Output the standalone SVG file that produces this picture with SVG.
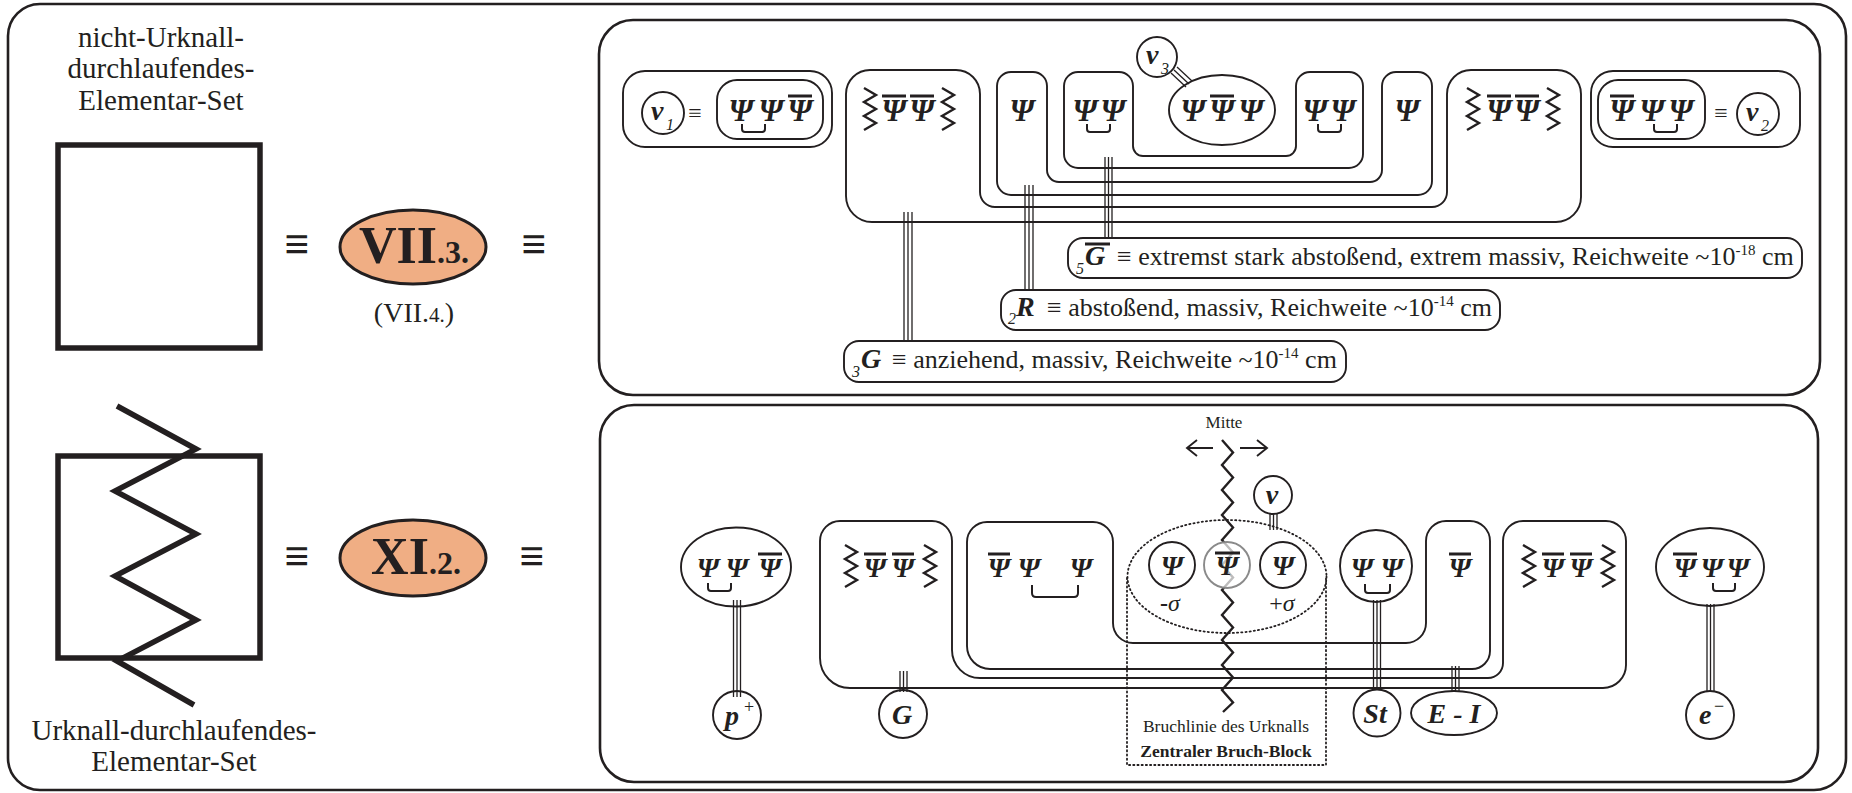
<svg xmlns="http://www.w3.org/2000/svg" width="1852" height="793" viewBox="0 0 1852 793">
<style>
.t{font-family:"Liberation Serif","Times New Roman",serif;fill:#231f20}
.bi{font-family:"Liberation Serif","Times New Roman",serif;font-weight:bold;font-style:italic;fill:#231f20}
.psi{font-family:"Liberation Serif","Times New Roman",serif;font-weight:bold;font-style:italic;text-anchor:middle;fill:#231f20}
.sub{font-family:"Liberation Serif","Times New Roman",serif;font-style:italic;fill:#231f20}
.ln{fill:none;stroke:#231f20;stroke-width:1.9}
.pnl{fill:none;stroke:#231f20;stroke-width:2.6}
.ov{stroke:#231f20;stroke-width:3}
.br{fill:none;stroke:#231f20;stroke-width:2}
.tr line{stroke:#231f20;stroke-width:1.3}
.zz{fill:none;stroke:#231f20;stroke-width:2.4}
.dot{fill:none;stroke:#231f20;stroke-width:1.8;stroke-dasharray:1.2 3;stroke-linecap:round}
.big{fill:none;stroke:#231f20;stroke-width:5.5}
.eq{font-family:"Liberation Serif","DejaVu Serif",serif;font-weight:bold;font-size:44px;text-anchor:middle;fill:#231f20}
.lab{fill:#fff;stroke:#231f20;stroke-width:1.9}
</style>
<defs>
<path id="zz" class="zz" d="M0,0 L12,7 L0,14 L12,21 L0,28 L12,35 L0,42"/>
</defs>
<rect width="1852" height="793" fill="#fff"/>
<rect x="8" y="4" width="1838" height="786" rx="32" class="pnl"/>

<!-- left side -->
<g id="left-top">
<text class="t" font-size="29" text-anchor="middle"><tspan x="161" y="47">nicht-Urknall-</tspan><tspan x="161" y="78">durchlaufendes-</tspan><tspan x="161" y="110">Elementar-Set</tspan></text>
<rect x="58" y="145" width="202" height="203" class="big"/>
<text class="eq" x="297" y="259">≡</text>
<ellipse cx="413" cy="247" rx="73" ry="37" fill="#F0AE84" stroke="#231f20" stroke-width="3"/>
<text class="t" x="414" y="263" text-anchor="middle" font-weight="bold" font-size="52">VII<tspan font-size="32">.3.</tspan></text>
<text class="eq" x="534" y="259">≡</text>
<text class="t" x="414" y="322" text-anchor="middle" font-size="28">(VII.<tspan font-size="21">4.</tspan>)</text>
</g>
<g id="left-bottom">
<rect x="58" y="456" width="202" height="202" class="big"/>
<polyline class="big" points="117,406 196,449 115,491 196,534 115,576 196,620 117,661 194,705"/>
<text class="eq" x="297" y="571">≡</text>
<ellipse cx="413" cy="558" rx="73" ry="38" fill="#F0AE84" stroke="#231f20" stroke-width="3"/>
<text class="t" x="416" y="574" text-anchor="middle" font-weight="bold" font-size="52">XI<tspan font-size="32">.2.</tspan></text>
<text class="eq" x="532" y="571">≡</text>
<text class="t" font-size="29" text-anchor="middle"><tspan x="174" y="740">Urknall-durchlaufendes-</tspan><tspan x="174" y="771">Elementar-Set</tspan></text>
</g>

<!-- top panel -->
<rect id="top-panel" x="599" y="20" width="1221" height="375" rx="34" class="pnl"/>
<g id="top-connectors" class="tr">
<line x1="904" y1="212" x2="904" y2="341"/><line x1="908" y1="212" x2="908" y2="341"/><line x1="912" y1="212" x2="912" y2="341"/>
<line x1="1025" y1="185" x2="1025" y2="290"/><line x1="1029" y1="185" x2="1029" y2="290"/><line x1="1033" y1="185" x2="1033" y2="290"/>
<line x1="1105" y1="157" x2="1105" y2="238"/><line x1="1108.5" y1="157" x2="1108.5" y2="238"/><line x1="1112" y1="157" x2="1112" y2="238"/>
<line x1="1171" y1="73" x2="1186" y2="87"/><line x1="1174" y1="70" x2="1189" y2="84"/><line x1="1177" y1="67" x2="1192" y2="81"/>
</g>
<g id="v1">
<rect x="623" y="71" width="209" height="76" rx="22" class="ln"/>
<circle cx="663" cy="113" r="21" class="ln"/>
<text class="bi" x="651" y="120" font-size="28">v</text><text class="sub" x="666" y="130" font-size="16">1</text>
<text class="t" x="695" y="121" font-size="24" text-anchor="middle">≡</text>
<rect x="717" y="80" width="106" height="59" rx="20" class="ln"/>
<text class="psi" font-size="31" y="121"><tspan x="741">Ψ</tspan><tspan x="771">Ψ</tspan><tspan x="800">Ψ</tspan></text>
<line class="ov" x1="788" y1="96" x2="812" y2="96"/>
<path class="br" d="M742,124 V129 Q742,132 745,132 H762 Q765,132 765,129 V124"/>
</g>
<g id="shape-zz-top">
<path class="ln" d="M846,94 A24,24 0 0 1 870,70 H956 A24,24 0 0 1 980,94 V192 A15,15 0 0 0 995,207 H1432 A15,15 0 0 0 1447,192 V94 A24,24 0 0 1 1471,70 H1557 A24,24 0 0 1 1581,94 V197 A25,25 0 0 1 1556,222 H872 A26,26 0 0 1 846,196 Z"/>
<use href="#zz" x="864" y="88"/><use href="#zz" x="942" y="88"/>
<text class="psi" font-size="31" y="121"><tspan x="894">Ψ</tspan><tspan x="922">Ψ</tspan></text>
<line class="ov" x1="882" y1="96" x2="906" y2="96"/><line class="ov" x1="910" y1="96" x2="934" y2="96"/>
<use href="#zz" x="1467" y="88"/><use href="#zz" x="1547" y="88"/>
<text class="psi" font-size="31" y="121"><tspan x="1499">Ψ</tspan><tspan x="1527">Ψ</tspan></text>
<line class="ov" x1="1487" y1="96" x2="1511" y2="96"/><line class="ov" x1="1515" y1="96" x2="1539" y2="96"/>
</g>
<g id="shape-psi-top">
<path class="ln" d="M997,86 A14,14 0 0 1 1011,72 H1033 A14,14 0 0 1 1047,86 V170 A12,12 0 0 0 1059,182 H1370 A12,12 0 0 0 1382,170 V86 A14,14 0 0 1 1396,72 H1418 A14,14 0 0 1 1432,86 V181 A14,14 0 0 1 1418,195 H1011 A14,14 0 0 1 997,181 Z"/>
<text class="psi" font-size="31" y="121"><tspan x="1022">Ψ</tspan><tspan x="1407">Ψ</tspan></text>
</g>
<g id="shape-psipsi-top">
<path class="ln" d="M1064,86 A14,14 0 0 1 1078,72 H1119 A14,14 0 0 1 1133,86 V146 A10,10 0 0 0 1143,156 H1286 A10,10 0 0 0 1296,146 V86 A14,14 0 0 1 1310,72 H1349 A14,14 0 0 1 1363,86 V154 A14,14 0 0 1 1349,168 H1078 A14,14 0 0 1 1064,154 Z"/>
<text class="psi" font-size="31" y="121"><tspan x="1085">Ψ</tspan><tspan x="1113">Ψ</tspan><tspan x="1315">Ψ</tspan><tspan x="1343">Ψ</tspan></text>
<path class="br" d="M1087,124 V129 Q1087,132 1090,132 H1107 Q1110,132 1110,129 V124"/>
<path class="br" d="M1318,124 V129 Q1318,132 1321,132 H1338 Q1341,132 1341,129 V124"/>
</g>
<g id="ellipse-top">
<ellipse cx="1222" cy="110" rx="53" ry="35" class="ln" fill="#fff"/>
<text class="psi" font-size="31" y="121"><tspan x="1193">Ψ</tspan><tspan x="1222">Ψ</tspan><tspan x="1251">Ψ</tspan></text>
<line class="ov" x1="1210" y1="96" x2="1234" y2="96"/>
</g>
<g id="v3">
<circle cx="1157" cy="57" r="20" class="ln" fill="#fff"/>
<text class="bi" x="1146" y="64" font-size="28">v</text><text class="sub" x="1161" y="74" font-size="16">3</text>
</g>
<g id="v2">
<rect x="1591" y="71" width="209" height="76" rx="22" class="ln"/>
<rect x="1598" y="80" width="107" height="59" rx="20" class="ln"/>
<text class="psi" font-size="31" y="121"><tspan x="1622">Ψ</tspan><tspan x="1652">Ψ</tspan><tspan x="1681">Ψ</tspan></text>
<line class="ov" x1="1610" y1="96" x2="1634" y2="96"/>
<path class="br" d="M1654,124 V129 Q1654,132 1657,132 H1674 Q1677,132 1677,129 V124"/>
<text class="t" x="1721" y="121" font-size="24" text-anchor="middle">≡</text>
<circle cx="1758" cy="114" r="21" class="ln"/>
<text class="bi" x="1746" y="121" font-size="28">v</text><text class="sub" x="1761" y="131" font-size="16">2</text>
</g>
<g id="label-5G">
<rect x="1068" y="238" width="734" height="40" rx="15" class="lab"/>
<text class="sub" x="1076" y="274" font-size="16">5</text>
<text class="bi" x="1085" y="265" font-size="28">G</text>
<line class="ov" x1="1085" y1="244" x2="1110" y2="244"/>
<text class="t" x="1117" y="265" font-size="26">≡ extremst stark abstoßend, extrem massiv, Reichweite ~10<tspan font-size="15" dy="-10">-18</tspan><tspan dy="10"> cm</tspan></text>
</g>
<g id="label-2R">
<rect x="1001" y="290" width="499" height="40" rx="15" class="lab"/>
<text class="sub" x="1008" y="324" font-size="16">2</text>
<text class="bi" x="1016" y="316" font-size="28">R</text>
<text class="t" x="1047" y="316" font-size="26">≡ abstoßend, massiv, Reichweite ~10<tspan font-size="15" dy="-10">-14</tspan><tspan dy="10"> cm</tspan></text>
</g>
<g id="label-3G">
<rect x="844" y="341" width="502" height="41" rx="15" class="lab"/>
<text class="sub" x="852" y="377" font-size="16">3</text>
<text class="bi" x="861" y="368" font-size="28">G</text>
<text class="t" x="892" y="368" font-size="26">≡ anziehend, massiv, Reichweite ~10<tspan font-size="15" dy="-10">-14</tspan><tspan dy="10"> cm</tspan></text>
</g>

<!-- bottom panel -->
<rect id="bottom-panel" x="600" y="405" width="1218" height="377" rx="34" class="pnl"/>
<g id="shape-zz-bottom">
<path class="ln" d="M820,541 A20,20 0 0 1 840,521 H932 A20,20 0 0 1 952,541 V650 A28,28 0 0 0 980,678 H1488 A15,15 0 0 0 1503,663 V541 A20,20 0 0 1 1523,521 H1606 A20,20 0 0 1 1626,541 V665 A23,23 0 0 1 1603,688 H850 A30,30 0 0 1 820,658 Z"/>
<use href="#zz" x="845" y="545"/><use href="#zz" x="924" y="545"/>
<text class="psi" font-size="28" y="577"><tspan x="875">Ψ</tspan><tspan x="903">Ψ</tspan></text>
<line class="ov" x1="864" y1="554" x2="886" y2="554"/><line class="ov" x1="892" y1="554" x2="914" y2="554"/>
<use href="#zz" x="1523" y="545"/><use href="#zz" x="1602" y="545"/>
<text class="psi" font-size="28" y="577"><tspan x="1553">Ψ</tspan><tspan x="1581">Ψ</tspan></text>
<line class="ov" x1="1542" y1="554" x2="1564" y2="554"/><line class="ov" x1="1570" y1="554" x2="1592" y2="554"/>
</g>
<g id="shape-psibar-bottom">
<path class="ln" d="M967,542 A20,20 0 0 1 987,522 H1093 A20,20 0 0 1 1113,542 V623 A20,20 0 0 0 1133,643 H1406 A20,20 0 0 0 1426,623 V541 A20,20 0 0 1 1446,521 H1470 A20,20 0 0 1 1490,541 V651 A18,18 0 0 1 1472,669 H990 A23,23 0 0 1 967,646 Z"/>
<text class="psi" font-size="28" y="577"><tspan x="999">Ψ</tspan><tspan x="1029">Ψ</tspan><tspan x="1081">Ψ</tspan><tspan x="1460">Ψ</tspan></text>
<line class="ov" x1="988" y1="554" x2="1010" y2="554"/><line class="ov" x1="1449" y1="554" x2="1471" y2="554"/>
<path class="br" d="M1032,585 V593 Q1032,597 1036,597 H1074 Q1078,597 1078,593 V585"/>
</g>
<g id="bottom-connectors" class="tr">
<line x1="733.5" y1="600" x2="733.5" y2="697"/><line x1="737" y1="600" x2="737" y2="697"/><line x1="740.5" y1="600" x2="740.5" y2="697"/>
<line x1="900" y1="671" x2="900" y2="692"/><line x1="903.5" y1="671" x2="903.5" y2="692"/><line x1="907" y1="671" x2="907" y2="692"/>
<line x1="1270" y1="513" x2="1270" y2="530"/><line x1="1273.5" y1="513" x2="1273.5" y2="530"/><line x1="1277" y1="513" x2="1277" y2="530"/>
<line x1="1373.5" y1="600" x2="1373.5" y2="690"/><line x1="1377" y1="600" x2="1377" y2="690"/><line x1="1380.5" y1="600" x2="1380.5" y2="690"/>
<line x1="1452" y1="666" x2="1452" y2="692"/><line x1="1455.5" y1="666" x2="1455.5" y2="692"/><line x1="1459" y1="666" x2="1459" y2="692"/>
<line x1="1707" y1="604" x2="1707" y2="692"/><line x1="1710.5" y1="604" x2="1710.5" y2="692"/><line x1="1714" y1="604" x2="1714" y2="692"/>
</g>
<g id="p-ellipse">
<ellipse cx="736" cy="567" rx="55" ry="39.5" class="ln" fill="#fff"/>
<text class="psi" font-size="28" y="577"><tspan x="708">Ψ</tspan><tspan x="737">Ψ</tspan><tspan x="770">Ψ</tspan></text>
<line class="ov" x1="758" y1="554" x2="782" y2="554"/>
<path class="br" d="M708,583 V588 Q708,591 711,591 H728 Q731,591 731,588 V583"/>
</g>
<g id="p-plus">
<circle cx="737" cy="715" r="24" class="ln" fill="#fff"/>
<text class="bi" x="725" y="725" font-size="28">p</text><text class="t" x="744" y="713" font-size="18">+</text>
</g>
<g id="G">
<circle cx="903" cy="714" r="24" class="ln" fill="#fff"/>
<text class="psi" x="902" y="724" font-size="28">G</text>
</g>
<g id="mitte">
<text class="t" x="1224" y="428" font-size="17" text-anchor="middle">Mitte</text>
<path class="ln" d="M1213,448 H1187 M1197,440 L1187,448 L1197,456 M1240,448 H1267 M1257,440 L1267,448 L1257,456"/>
</g>
<g id="central-block">
<ellipse cx="1227" cy="576.5" rx="99.5" ry="56.5" class="dot"/>
<path class="dot" d="M1127,578 V765 H1326 V578"/>
<polyline class="zz" stroke-width="2" points="1222,440 1233,452.5 1222,465 1233,477.5 1222,490 1233,502.5 1222,515 1233,527.5 1222,540 1233,552.5 1222,565 1233,577.5 1222,590 1233,602.5 1222,615 1233,627.5 1222,640 1233,652.5 1222,665 1233,677.5 1222,690 1233,702.5 1223,712"/>
<circle cx="1172" cy="565" r="23" class="ln" fill="#fff"/>
<circle cx="1227" cy="565" r="23" fill="#fff" fill-opacity="0.7" stroke="#8a8a8a" stroke-width="1.9"/>
<circle cx="1283" cy="565" r="23" class="ln" fill="#fff"/>
<text class="psi" font-size="28" y="575"><tspan x="1172">Ψ</tspan><tspan x="1227">Ψ</tspan><tspan x="1283">Ψ</tspan></text>
<line class="ov" x1="1215" y1="553" x2="1240" y2="553"/>
<text class="sub" x="1170" y="611" font-size="24" text-anchor="middle"><tspan font-style="normal" font-weight="bold">-</tspan>σ</text>
<text class="sub" x="1282" y="611" font-size="24" text-anchor="middle"><tspan font-style="normal">+</tspan>σ</text>
<text class="t" x="1226" y="732" font-size="17.5" text-anchor="middle">Bruchlinie des Urknalls</text>
<text class="t" x="1226" y="757" font-size="17.5" text-anchor="middle" font-weight="bold">Zentraler Bruch-Block</text>
</g>
<g id="v">
<circle cx="1273" cy="495" r="19" class="ln" fill="#fff"/>
<text class="psi" x="1272" y="504" font-size="28">v</text>
</g>
<g id="psipsi-circle">
<circle cx="1376" cy="566" r="36" class="ln" fill="#fff"/>
<text class="psi" font-size="28" y="577"><tspan x="1362">Ψ</tspan><tspan x="1392">Ψ</tspan></text>
<path class="br" d="M1365,584 V590 Q1365,593 1368,593 H1387 Q1390,593 1390,590 V584"/>
</g>
<g id="St">
<circle cx="1377" cy="713" r="23.5" class="ln" fill="#fff"/>
<text class="psi" x="1375" y="723" font-size="28">St</text>
</g>
<g id="E-I">
<ellipse cx="1454" cy="713" rx="43" ry="22" class="ln" fill="#fff"/>
<text class="psi" x="1454" y="723" font-size="28">E - I</text>
</g>
<g id="e-ellipse">
<ellipse cx="1710" cy="567" rx="54" ry="39" class="ln" fill="#fff"/>
<text class="psi" font-size="28" y="577"><tspan x="1685">Ψ</tspan><tspan x="1712">Ψ</tspan><tspan x="1738">Ψ</tspan></text>
<line class="ov" x1="1673" y1="554" x2="1697" y2="554"/>
<path class="br" d="M1713,583 V588 Q1713,591 1716,591 H1732 Q1735,591 1735,588 V583"/>
</g>
<g id="e-minus">
<circle cx="1710" cy="715" r="24" class="ln" fill="#fff"/>
<text class="bi" x="1699" y="724" font-size="28">e</text><text class="t" x="1714" y="712" font-size="18">−</text>
</g>
</svg>
